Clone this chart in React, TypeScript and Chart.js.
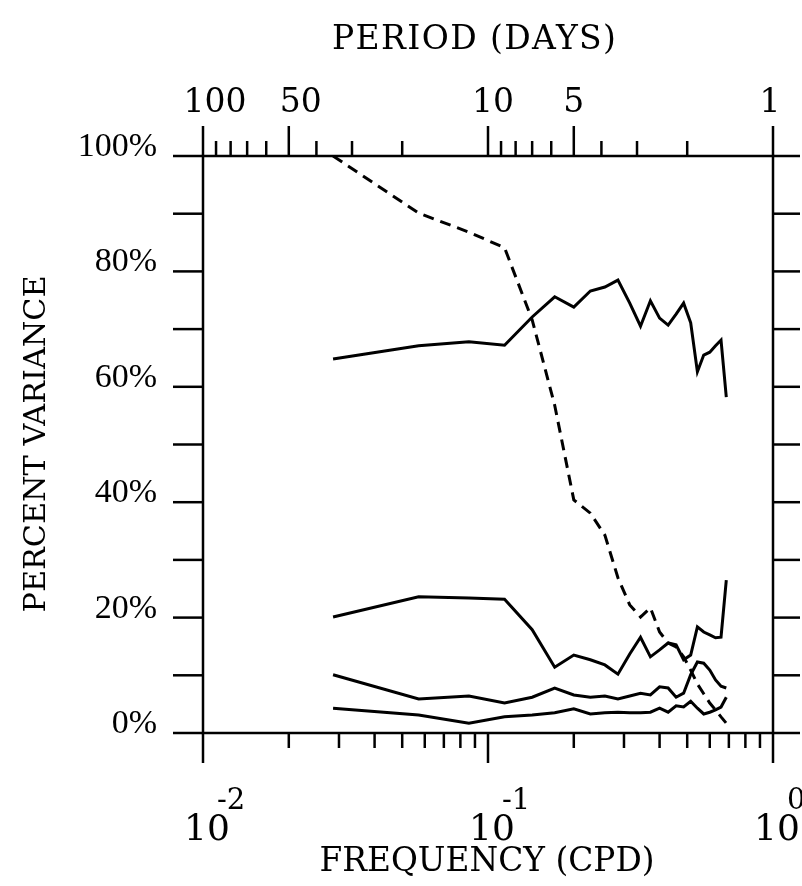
import React, { useEffect, useRef } from "react";
import { Chart, registerables } from "chart.js";

Chart.register(...registerables);

// Frequencies (cycles per day) of the estimates
const FREQ_CPD = [
  0.0286, 0.0571, 0.0857, 0.1143, 0.1429, 0.1714, 0.2, 0.2286, 0.2571, 0.2857,
  0.3143, 0.3429, 0.3714, 0.4, 0.4286, 0.4571, 0.4857, 0.5143, 0.5429, 0.5714,
  0.6, 0.6286, 0.6571, 0.6857,
];

// Percent variance, dashed curve
const DASHED_PCT = [
  100, 90.1, 86.8, 84.1, 71.6, 56.8, 40.4, 38.1, 34.3, 26.9, 22.2, 20.1, 21.7,
  17.5, 15.6, 14.9, 13.2, 10.9, 8.5, 6.8, 5.2, 4.0, 2.8, 1.7,
];

// Percent variance, upper solid curve
const SOLID_TOP_PCT = [
  64.8, 67.1, 67.8, 67.2, 72.1, 75.6, 73.8, 76.6, 77.3, 78.5, 74.5, 70.5, 74.9,
  71.9, 70.7, 72.6, 74.5, 71.1, 62.6, 65.5, 66.0, 67.1, 68.1, 58.2,
];

// Percent variance, second solid curve (~20%)
const SOLID_MID_PCT = [
  20.1, 23.6, 23.4, 23.2, 17.9, 11.4, 13.5, 12.7, 11.8, 10.2, 13.7, 16.6, 13.2,
  14.4, 15.6, 15.3, 12.7, 13.5, 18.4, 17.5, 17.0, 16.5, 16.6, 26.5,
];

// Percent variance, third solid curve (~10%)
const SOLID_LOW_PCT = [
  10.1, 5.9, 6.4, 5.2, 6.2, 7.8, 6.6, 6.2, 6.4, 5.9, 6.4, 6.9, 6.6, 8.0, 7.8,
  6.2, 6.9, 10.1, 12.3, 12.1, 10.9, 9.2, 8.1, 7.8,
];

// Percent variance, lowest solid curve (~4%)
const SOLID_BOTTOM_PCT = [
  4.3, 3.1, 1.7, 2.8, 3.1, 3.5, 4.2, 3.3, 3.5, 3.6, 3.5, 3.5, 3.6, 4.3, 3.6, 4.7,
  4.5, 5.5, 4.3, 3.3, 3.6, 4.0, 4.5, 6.2,
];

// Axis ticks
const Y_TICKS = [0, 10, 20, 30, 40, 50, 60, 70, 80, 90, 100];
const Y_LABELS = [0, 20, 40, 60, 80, 100];
const FREQ_MAJOR = [0.01, 0.1, 1];
const FREQ_EXP = ["-2", "-1", "0"];
const FREQ_MINOR = [
  0.02, 0.03, 0.04, 0.05, 0.06, 0.07, 0.08, 0.09, 0.2, 0.3, 0.4, 0.5, 0.6, 0.7,
  0.8, 0.9,
];
const PERIOD_MAJOR = [100, 50, 10, 5, 1];
const PERIOD_MINOR = [90, 80, 70, 60, 40, 30, 20, 9, 8, 7, 6, 4, 3, 2];

const FONT = '"DejaVu Serif", serif';
const FONT_NARROW = '"Liberation Serif", serif';

const toPoints = (ys: number[]) => ys.map((y, i) => ({ x: FREQ_CPD[i], y }));

function drawFitted(
  ctx: CanvasRenderingContext2D,
  text: string,
  cx: number,
  cy: number,
  size: number,
  target: number
) {
  ctx.font = `${size}px ${FONT}`;
  (ctx as any).letterSpacing = "0px";
  let w = ctx.measureText(text).width;
  if (w > target) {
    const s = (size * target) / w;
    ctx.font = `${s.toFixed(1)}px ${FONT}`;
    w = ctx.measureText(text).width;
  }
  const sp = Math.max(0, (target - w) / (text.length - 1));
  (ctx as any).letterSpacing = `${sp.toFixed(2)}px`;
  ctx.textAlign = "left";
  ctx.textBaseline = "middle";
  ctx.fillText(text, cx - target / 2, cy);
  (ctx as any).letterSpacing = "0px";
}

const axesPlugin = {
  id: "classicAxes",
  afterDraw(chart: any) {
    const ctx = chart.ctx as CanvasRenderingContext2D;
    const xs = chart.scales.x;
    const ys = chart.scales.y;
    const { left, right, top, bottom } = chart.chartArea;
    ctx.save();
    ctx.strokeStyle = "#000";
    ctx.fillStyle = "#000";
    ctx.lineWidth = 2.5;
    ctx.lineCap = "butt";
    ctx.strokeRect(left, top, right - left, bottom - top);

    const line = (x1: number, y1: number, x2: number, y2: number) => {
      ctx.beginPath();
      ctx.moveTo(x1, y1);
      ctx.lineTo(x2, y2);
      ctx.stroke();
    };

    Y_TICKS.forEach((v) => {
      const py = ys.getPixelForValue(v);
      line(left - 30, py, left, py);
      line(right, py, right + 27, py);
    });
    FREQ_MAJOR.forEach((v) => {
      const px = xs.getPixelForValue(v);
      line(px, bottom, px, bottom + 30);
    });
    FREQ_MINOR.forEach((v) => {
      const px = xs.getPixelForValue(v);
      line(px, bottom, px, bottom + 15);
    });
    PERIOD_MAJOR.forEach((p) => {
      const px = xs.getPixelForValue(1 / p);
      line(px, top, px, top - 30);
    });
    PERIOD_MINOR.forEach((p) => {
      const px = xs.getPixelForValue(1 / p);
      line(px, top, px, top - 15);
    });

    // y tick labels
    ctx.font = `34px ${FONT_NARROW}`;
    ctx.textAlign = "right";
    ctx.textBaseline = "alphabetic";
    Y_LABELS.forEach((v) => {
      const py = ys.getPixelForValue(v);
      ctx.fillText(`${v}%`, 157, py);
    });

    // top (period) labels
    const periodShift: Record<number, number> = { 100: 12, 50: 12, 10: 5, 5: 0, 1: -3 };
    ctx.font = `33px ${FONT}`;
    ctx.textAlign = "center";
    ctx.textBaseline = "middle";
    PERIOD_MAJOR.forEach((p) => {
      const px = xs.getPixelForValue(1 / p);
      ctx.fillText(String(p), px + (periodShift[p] ?? 0), 103);
    });

    // bottom (frequency) labels
    FREQ_MAJOR.forEach((v, i) => {
      const px = xs.getPixelForValue(v);
      ctx.font = `36px ${FONT}`;
      ctx.textAlign = "center";
      ctx.textBaseline = "middle";
      ctx.fillText("10", px + 4, 831);
      ctx.font = `29px ${FONT}`;
      ctx.textAlign = "left";
      ctx.fillText(FREQ_EXP[i], px + 14, 801);
    });

    drawFitted(ctx, "PERIOD (DAYS)", 474, 40, 33, 284);
    drawFitted(ctx, "FREQUENCY (CPD)", 487, 862, 33, 335);

    ctx.translate(37, 444);
    ctx.rotate(-Math.PI / 2);
    drawFitted(ctx, "PERCENT VARIANCE", 0, 0, 33, 337);
    ctx.restore();
  },
};

export default function App() {
  const ref = useRef<HTMLCanvasElement | null>(null);
  useEffect(() => {
    if (!ref.current) return;
    const solid = (ys: number[]) => ({
      data: toPoints(ys),
      borderColor: "#000",
      borderWidth: 3,
      pointRadius: 0,
      fill: false,
      tension: 0,
    });
    const chart = new Chart(ref.current, {
      type: "line",
      data: {
        datasets: [
          { ...solid(DASHED_PCT), borderDash: [11, 7] },
          solid(SOLID_TOP_PCT),
          solid(SOLID_MID_PCT),
          solid(SOLID_LOW_PCT),
          solid(SOLID_BOTTOM_PCT),
        ],
      },
      options: {
        animation: false,
        responsive: false,
        devicePixelRatio: 1,
        layout: { padding: { left: 203, right: 29, top: 156, bottom: 153 } },
        plugins: { legend: { display: false }, tooltip: { enabled: false } },
        scales: {
          x: { type: "logarithmic", min: 0.01, max: 1, display: false },
          y: { type: "linear", min: 0, max: 100, display: false },
        },
      },
      plugins: [axesPlugin],
    });
    return () => chart.destroy();
  }, []);
  return (
    <div style={{ position: "absolute", left: 0, top: 0, width: 802, height: 886, background: "#fff" }}>
      <canvas ref={ref} width={802} height={886} style={{ width: 802, height: 886 }} />
    </div>
  );
}
